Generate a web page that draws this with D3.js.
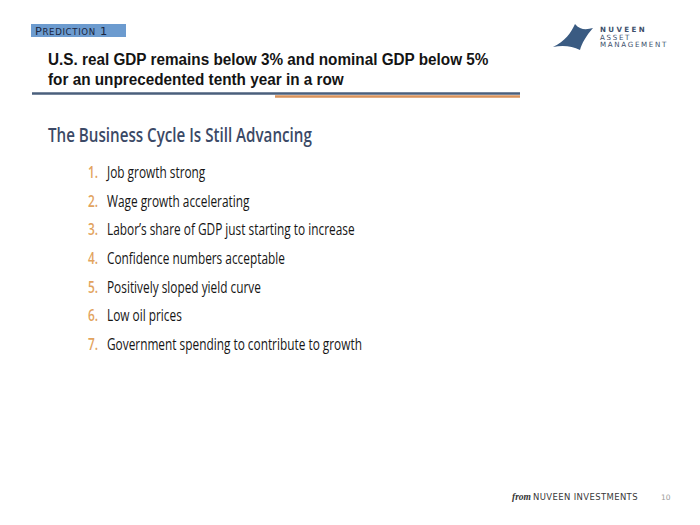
<!DOCTYPE html>
<html>
<head>
<meta charset="utf-8">
<script src="https://cdn.jsdelivr.net/npm/d3@7"></script>
<style>
  html, body { margin: 0; padding: 0; background: #fff; }
  svg { display: block; }
</style>
</head>
<body>
<div id="chart"></div>
<script>
// ---- content ----
const tagLabel = "Prediction 1";
const titleLines = [
  "U.S. real GDP remains below 3% and nominal GDP below 5%",
  "for an unprecedented tenth year in a row"
];
const subtitle = "The Business Cycle Is Still Advancing";
const listNumbers = ["1.", "2.", "3.", "4.", "5.", "6.", "7."];
const listItems = [
  "Job growth strong",
  "Wage growth accelerating",
  "Labor\u2019s share of GDP just starting to increase",
  "Confidence numbers acceptable",
  "Positively sloped yield curve",
  "Low oil prices",
  "Government spending to contribute to growth"
];
const logoLines = ["NUVEEN", "ASSET", "MANAGEMENT"];
const footerFrom = "from";
const footerBrand = "NUVEEN INVESTMENTS";
const pageNumber = "10";

// ---- drawing ----
const W = 700, H = 525;
const svg = d3.select("#chart").append("svg").attr("width", W).attr("height", H);
svg.append("rect").attr("width", W).attr("height", H).attr("fill", "#fff");

function condense(sel, x, k) {
  sel.attr("transform", `translate(${x},0) scale(${k},1) translate(${-x},0)`);
}
function fitWidth(node, x, target) {
  const k = target / node.getComputedTextLength();
  condense(d3.select(node), x, k);
  return k;
}

// tag box
svg.append("rect").attr("x", 31).attr("y", 24).attr("width", 95).attr("height", 13)
  .attr("fill", "#6c9bcf");
const tag = svg.append("text").attr("x", 35).attr("y", 35)
  .attr("font-family", "DejaVu Sans, sans-serif").attr("fill", "#1a2640")
  .attr("letter-spacing", 0.6);
tag.append("tspan").attr("font-size", 11).text(tagLabel[0].toUpperCase());
tag.append("tspan").attr("font-size", 8.3).text(tagLabel.slice(1, 10).toUpperCase());
tag.append("tspan").attr("font-size", 11).text(tagLabel.slice(10));
fitWidth(tag.node(), 35, 73);

// title
const titleY = d3.scalePoint().domain(d3.range(titleLines.length)).range([65, 85]);
const title = svg.append("text")
  .attr("font-family", "Liberation Sans, Arial, sans-serif").attr("font-weight", 700)
  .attr("font-size", 17).attr("fill", "#141414");
const titleSpans = title.selectAll("tspan").data(titleLines).join("tspan")
  .attr("x", 48).attr("y", (d, i) => titleY(i)).text(d => d);
condense(title, 48, 441 / titleSpans.nodes()[0].getComputedTextLength());

// rules
svg.append("line").attr("x1", 32).attr("x2", 520).attr("y1", 93.5).attr("y2", 93.5)
  .attr("stroke", "#4a5f7c").attr("stroke-width", 2.6);
svg.append("line").attr("x1", 275).attr("x2", 520).attr("y1", 96.5).attr("y2", 96.5)
  .attr("stroke", "#d8925a").attr("stroke-width", 2.6);

// subtitle
const sub = svg.append("text").attr("x", 48).attr("y", 142)
  .attr("font-family", "Open Sans, sans-serif").attr("font-weight", 600)
  .attr("font-size", 19.5).attr("fill", "#3b4966").text(subtitle);
fitWidth(sub.node(), 48, 264);

// list
const y = d3.scalePoint().domain(d3.range(listItems.length)).range([178, 350]);
const g = svg.append("g");
const numbers = g.selectAll("text.num").data(listNumbers).join("text")
  .attr("class", "num").attr("x", 88).attr("y", (d, i) => y(i))
  .attr("font-family", "Open Sans, sans-serif").attr("font-weight", 600)
  .attr("font-size", 16.5).attr("fill", "#e2a35e").text(d => d);
const items = g.selectAll("text.item").data(listItems).join("text")
  .attr("class", "item").attr("x", 107).attr("y", (d, i) => y(i))
  .attr("font-family", "Open Sans, sans-serif")
  .attr("font-size", 16.5).attr("fill", "#161616").text(d => d);
const longest = items.nodes()[listItems.length - 1];
const k = 255 / longest.getComputedTextLength();
condense(items, 107, k);
condense(numbers, 88, k);

// logo mark
svg.append("path")
  .attr("d", "M553,47 C565,41 571,33 575,24 C580,30 586,30 593,28 C586,36 582,43 580,50 C572,46 563,45 553,47 Z")
  .attr("fill", "#3a5b82");
const logoY = d3.scalePoint().domain(d3.range(logoLines.length)).range([32.5, 47.5]);
const logo = svg.append("text")
  .attr("font-family", "DejaVu Sans, sans-serif")
  .attr("font-size", 7.2).attr("fill", "#3d4f6c");
const logoSpans = logo.selectAll("tspan").data(logoLines).join("tspan")
  .attr("x", 600).attr("y", (d, i) => logoY(i))
  .attr("font-weight", (d, i) => i === 0 ? 700 : 400)
  .attr("letter-spacing", (d, i) => i === 0 ? 2.4 : 1.7)
  .text(d => d);
condense(logo, 600, 68 / logoSpans.nodes()[2].getComputedTextLength());

// footer
svg.append("text").attr("x", 512).attr("y", 500)
  .attr("font-family", "Liberation Serif, serif").attr("font-style", "italic")
  .attr("font-weight", 700)
  .attr("font-size", 9.5).attr("fill", "#333").text(footerFrom);
const brand = svg.append("text").attr("x", 533).attr("y", 500)
  .attr("font-family", "DejaVu Sans, sans-serif").attr("font-size", 9)
  .attr("letter-spacing", 0.4).attr("fill", "#3a3a3a").text(footerBrand);
fitWidth(brand.node(), 533, 105);
svg.append("text").attr("x", 661).attr("y", 500)
  .attr("font-family", "DejaVu Sans, sans-serif").attr("font-size", 7.5)
  .attr("fill", "#9a9a9a").text(pageNumber);
</script>
</body>
</html>
